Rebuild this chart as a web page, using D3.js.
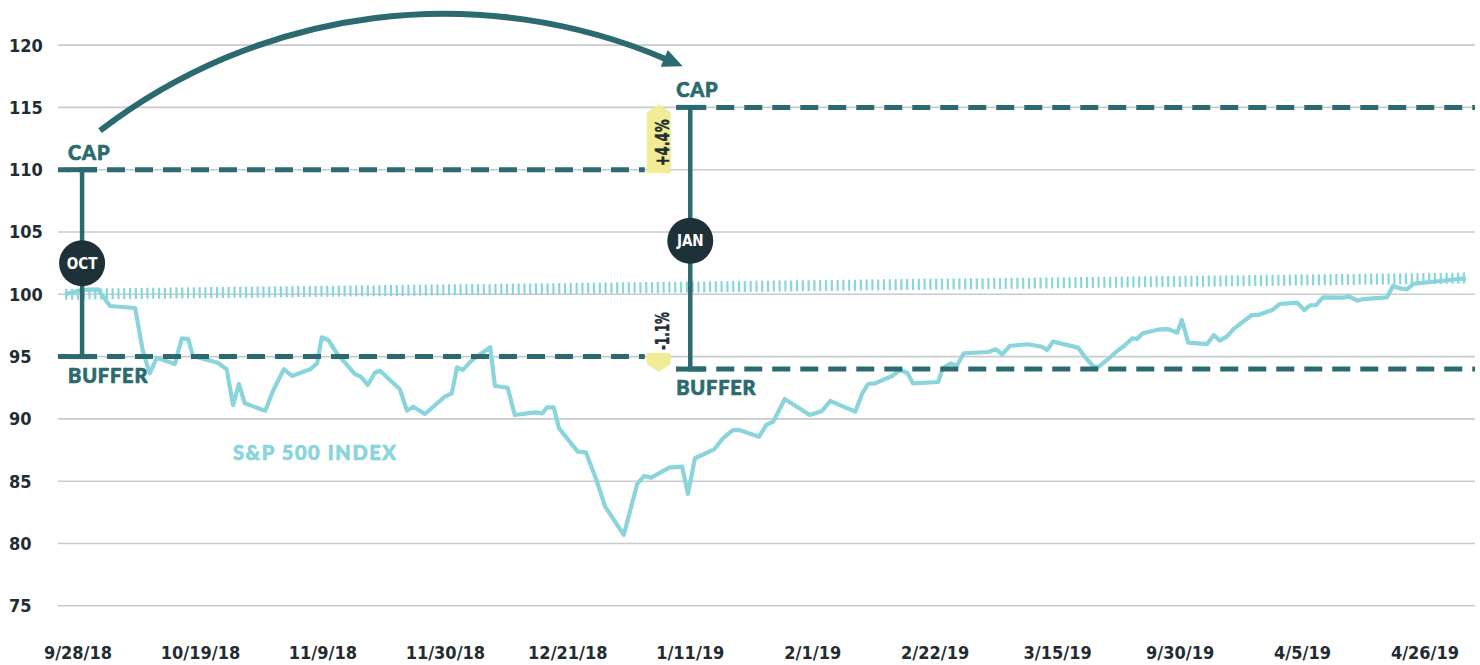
<!DOCTYPE html>
<html>
<head>
<meta charset="utf-8">
<script src="https://cdn.jsdelivr.net/npm/d3@7"></script>
<style>
body { margin: 0; background: #fff; }
svg text { font-family: "DejaVu Sans Condensed", "DejaVu Sans", sans-serif; font-stretch: condensed; font-weight: bold; }
svg text.lbl { font-family: Lato, "Open Sans", sans-serif; font-stretch: normal; font-weight: 900; stroke-width: 0.7px; }
</style>
</head>
<body>
<div id="vis"></div>
<script>
// axis labels (every 21 days)
var dateLabels = ["9/28/18", "10/19/18", "11/9/18", "11/30/18", "12/21/18", "1/11/19",
                  "2/1/19", "2/22/19", "3/15/19", "9/30/19", "4/5/19", "4/26/19"];
var yTicks = [75, 80, 85, 90, 95, 100, 105, 110, 115, 120];

// S&P 500 index, days after 9/28/18
var spDays = [-2.2, 0.7, 3.4, 5.5, 9.8, 11.1, 12.3, 13.5, 16.6, 17.8, 18.9, 19.7, 24.0, 25.5, 26.6, 27.6,
              28.6, 32.1, 33.4, 35.3, 36.7, 39.8, 41.0, 41.8, 42.9, 44.6, 47.5, 48.5, 49.7, 50.9, 51.8,
              55.2, 56.4, 57.5, 59.5, 62.9, 64.1, 65.0, 66.0, 67.6, 70.7, 71.5, 73.7, 74.9, 78.4, 79.6,
              80.4, 81.6, 82.5, 85.7, 87.1, 89.0, 90.4, 93.6, 95.9, 97.1, 98.3, 101.4, 103.6, 104.6,
              105.8, 109.1, 110.6, 112.3, 113.4, 116.8, 118.0, 119.2, 119.9, 121.2, 125.5, 127.6, 129.0,
              133.3, 134.5, 135.5, 136.7, 139.6, 141.0, 142.2, 143.2, 147.5, 148.3, 149.7, 150.7, 151.9,
              156.1, 157.4, 158.5, 159.8, 162.9, 165.3, 166.2, 167.2, 171.5, 173.0, 174.1, 174.9, 176.5,
              178.2, 179.4, 180.8, 181.6, 182.6, 185.6, 186.9, 188.5, 189.3, 190.4, 193.6, 194.8, 195.8,
              197.0, 198.3, 201.3, 202.4, 204.8, 206.1, 209.1, 210.3, 211.3, 212.3, 213.5, 217.0, 218.0,
              219.4, 220.4, 224.5, 225.5, 226.7, 227.9, 229.0, 232.4, 238.0];
var spValues = [100.0, 100.35, 100.4, 99.06, 98.9, 95.5, 93.66, 94.9, 94.4, 96.47, 96.4, 95.05, 94.5, 93.98, 91.1, 92.8,
                91.25, 90.66, 92.2, 93.98, 93.45, 93.98, 94.46, 96.55, 96.33, 95.13, 93.6, 93.39, 92.72, 93.71, 93.87,
                92.38, 90.66, 90.98, 90.4, 91.78, 92.05, 94.14, 93.93, 94.73, 95.75, 92.64, 92.5, 90.31, 90.52, 90.44,
                90.92, 90.92, 89.24, 87.37, 87.32, 84.97, 82.96, 80.69, 84.78, 85.42, 85.29, 86.09, 86.17, 83.97,
                86.84, 87.56, 88.44, 89.1, 89.1, 88.57, 89.5, 89.78, 90.39, 91.6, 90.31, 90.63, 91.44,
                90.58, 92.05, 92.8, 92.85, 93.44, 93.93, 93.71, 92.85, 92.96, 94.06, 94.46, 94.25, 95.27,
                95.37, 95.59, 95.18, 95.85, 95.99, 95.79, 95.53, 96.2, 95.72, 94.79, 94.25, 94.14, 94.73,
                95.45, 95.85, 96.47, 96.41, 96.87, 97.19, 97.21, 96.92, 97.94, 96.12, 96.0, 96.73, 96.28,
                96.6, 97.27, 98.34, 98.34, 98.74, 99.22, 99.33, 98.74, 99.12, 99.12, 99.76, 99.73, 99.81,
                99.49, 99.62, 99.76, 100.67, 100.48, 100.4, 100.83, 101.01, 101.28];

// hatched reference line
var baseDays = [-2.2, 238.0];
var baseValues = [100.0, 101.3];

// reset periods
var resetMonths = ["OCT", "JAN"];
var resetDays = [0.7, 105.0];
var capLevels = [110, 115];
var bufferLevels = [95, 94];
var badgeLevels = [102.5, 104.3];
var changeDay = 99.6;
var changeLabels = ["+4.4%", "-1.1%"];

var width = 1480;
var height = 665;
var left = 58, right = 1475;

var teal = "#2b6a6e", cyan = "#8ad4db", navy = "#1e3138", ink = "#1f2d33";

var svg = d3.select('#vis')
    .append('svg')
    .attr('width', width)
    .attr('height', height);

var x = d3.scaleLinear().domain([0, 231]).range([78, 1425]);
var y = d3.scaleLinear().domain([75, 120]).range([605.8, 45.1]);

// grid + y labels
svg.selectAll('.grid')
    .data(yTicks)
    .enter()
    .append('line')
    .attr('class', 'grid')
    .attr('x1', left)
    .attr('x2', right)
    .attr('y1', function(d) { return y(d); })
    .attr('y2', function(d) { return y(d); })
    .attr('stroke', '#c7cbcd')
    .attr('stroke-width', 1.6);

svg.selectAll('.ylab')
    .data(yTicks)
    .enter()
    .append('text')
    .attr('class', 'ylab')
    .attr('x', 9)
    .attr('y', function(d) { return y(d); })
    .attr('dy', '0.36em')
    .attr('font-size', 18)
    .attr('fill', ink)
    .text(function(d) { return d; });

svg.selectAll('.xlab')
    .data(dateLabels)
    .enter()
    .append('text')
    .attr('class', 'xlab')
    .attr('x', function(d, i) { return x(i * 21); })
    .attr('y', 659)
    .attr('text-anchor', 'middle')
    .attr('font-size', 18)
    .attr('fill', ink)
    .text(function(d) { return d; });

// hatched line
var line = d3.line()
    .x(function(d) { return x(d[0]); })
    .y(function(d) { return y(d[1]); });

svg.append('path')
    .datum(d3.zip(baseDays, baseValues))
    .attr('d', line)
    .attr('fill', 'none')
    .attr('stroke', cyan)
    .attr('stroke-width', 11)
    .attr('stroke-dasharray', '2.2,3.6');

// S&P line
svg.append('path')
    .datum(d3.zip(spDays, spValues))
    .attr('d', line)
    .attr('fill', 'none')
    .attr('stroke', cyan)
    .attr('stroke-width', 4.2)
    .attr('stroke-linejoin', 'round');

svg.append('text')
    .attr('class', 'lbl')
    .attr('x', 233)
    .attr('y', 460)
    .attr('font-size', 20)
    .attr('letter-spacing', 1.6)
    .attr('fill', cyan)
    .attr('stroke', cyan)
    .text('S&P 500 INDEX');

// cap / buffer levels
resetDays.forEach(function(day, i) {
    var x0 = i == 0 ? left : x(day) - 14;
    var x1 = i == 0 ? x(changeDay) - 14 : right;
    [capLevels[i], bufferLevels[i]].forEach(function(lv) {
        svg.append('line')
            .attr('x1', x0).attr('x2', x1)
            .attr('y1', y(lv)).attr('y2', y(lv))
            .attr('stroke', teal)
            .attr('stroke-width', 5)
            .attr('stroke-dasharray', '18,10')
            .attr('stroke-dashoffset', i == 0 ? 7 : 16);
        svg.append('line')
            .attr('x1', x(day) - 14).attr('x2', x(day) + 15)
            .attr('y1', y(lv)).attr('y2', y(lv))
            .attr('stroke', teal)
            .attr('stroke-width', 5);
    });
    svg.append('line')
        .attr('x1', x(day)).attr('x2', x(day))
        .attr('y1', y(capLevels[i])).attr('y2', y(bufferLevels[i]))
        .attr('stroke', teal)
        .attr('stroke-width', 4.5);

    svg.append('text')
        .attr('class', 'lbl')
        .attr('x', x(day) - 14)
        .attr('y', y(capLevels[i]) - 10)
        .attr('font-size', 20)
        .attr('letter-spacing', 0.8)
        .attr('fill', teal)
        .attr('stroke', teal)
        .text('CAP');
    svg.append('text')
        .attr('class', 'lbl')
        .attr('x', x(day) - 14)
        .attr('y', y(bufferLevels[i]) + 26)
        .attr('font-size', 20)
        .attr('letter-spacing', 0.8)
        .attr('fill', teal)
        .attr('stroke', teal)
        .text('BUFFER');

    svg.append('circle')
        .attr('cx', x(day))
        .attr('cy', y(badgeLevels[i]))
        .attr('r', 23)
        .attr('fill', navy);
    svg.append('text')
        .attr('x', x(day))
        .attr('y', y(badgeLevels[i]))
        .attr('dy', '0.36em')
        .attr('text-anchor', 'middle')
        .attr('font-size', 15)
        .attr('fill', '#fff')
        .text(resetMonths[i]);
});

// change badges between periods
var oldLv = [capLevels[0], bufferLevels[0]];
var newLv = [capLevels[1], bufferLevels[1]];
var xc = x(changeDay);
oldLv.forEach(function(o, i) {
    var yo = y(o), yn = y(newLv[i]);
    var s = yn > yo ? 1 : -1;
    var start = yo - s * 3.5, tip = yn + s * 3, sh = tip - s * 8;
    svg.append('path')
        .attr('d', 'M' + (xc - 12) + ',' + start + 'L' + (xc + 12) + ',' + start +
                   'L' + (xc + 12) + ',' + sh + 'L' + xc + ',' + tip + 'L' + (xc - 12) + ',' + sh + 'Z')
        .attr('fill', '#f1ed96');
    var ty = s < 0 ? (start + sh) / 2 : start - 3;
    svg.append('text')
        .attr('transform', 'translate(' + (xc + 10) + ',' + ty + ') rotate(-90)')
        .attr('text-anchor', s < 0 ? 'middle' : 'start')
        .attr('font-size', 19)
        .attr('textLength', s < 0 ? 47 : 38)
        .attr('lengthAdjust', 'spacingAndGlyphs')
        .attr('fill', ink)
        .attr('stroke', ink)
        .attr('stroke-width', 0.5)
        .text(changeLabels[i]);
});

// curved arrow from first cap to next
var p0 = [x(resetDays[0]) + 18, y(capLevels[0]) - 39];
var p1 = [x(resetDays[1]) - 26, y(capLevels[1]) - 49];
var r = 565;
var mx = (p0[0] + p1[0]) / 2, my = (p0[1] + p1[1]) / 2;
var dx = p1[0] - p0[0], dy = p1[1] - p0[1], len = Math.sqrt(dx * dx + dy * dy);
var h = Math.sqrt(r * r - len * len / 4);
var c = [mx - dy / len * h, my + dx / len * h];
var t = [-(p1[1] - c[1]) / r, (p1[0] - c[0]) / r];
var n = [-t[1], t[0]];

svg.append('path')
    .attr('d', 'M' + p0[0] + ',' + p0[1] + 'A' + r + ',' + r + ' 0 0,1 ' + (p1[0] + 2 * t[0]) + ',' + (p1[1] + 2 * t[1]))
    .attr('fill', 'none')
    .attr('stroke', teal)
    .attr('stroke-width', 6);

svg.append('path')
    .attr('d', 'M' + (p1[0] + 20 * t[0]) + ',' + (p1[1] + 20 * t[1]) +
               'L' + (p1[0] + 9 * n[0]) + ',' + (p1[1] + 9 * n[1]) +
               'L' + (p1[0] - 9 * n[0]) + ',' + (p1[1] - 9 * n[1]) + 'Z')
    .attr('fill', teal);
</script>
</body>
</html>
